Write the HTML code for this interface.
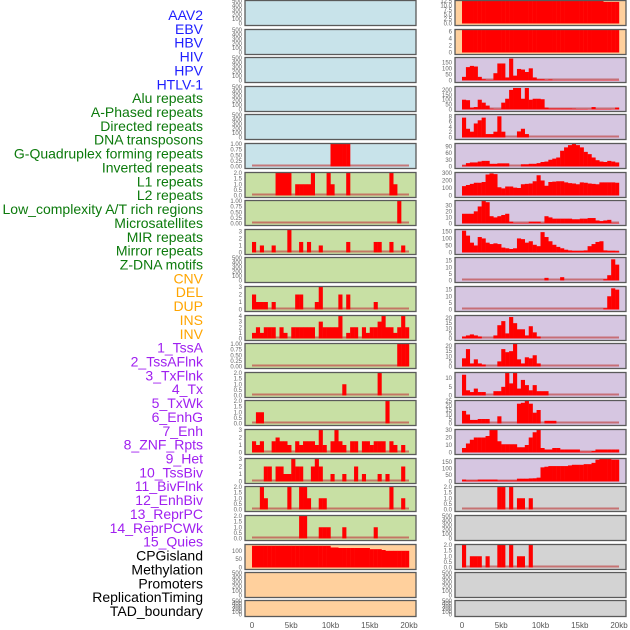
<!DOCTYPE html>
<html><head><meta charset="utf-8"><style>
html,body{margin:0;padding:0;background:#fff;}
svg{display:block;font-family:"Liberation Sans",sans-serif;}
</style></head><body>
<svg id="chart" width="630" height="630" viewBox="0 0 630 630" xmlns="http://www.w3.org/2000/svg"></svg>
<script>
const trackLabels = ["AAV2","EBV","HBV","HIV","HPV","HTLV-1","Alu repeats","A-Phased repeats","Directed repeats","DNA transposons","G-Quadruplex forming repeats","Inverted repeats","L1 repeats","L2 repeats","Low_complexity A/T rich regions","Microsatellites","MIR repeats","Mirror repeats","Z-DNA motifs","CNV","DEL","DUP","INS","INV","1_TssA","2_TssAFlnk","3_TxFlnk","4_Tx","5_TxWk","6_EnhG","7_Enh","8_ZNF_Rpts","9_Het","10_TssBiv","11_BivFlnk","12_EnhBiv","13_ReprPC","14_ReprPCWk","15_Quies","CPGisland","Methylation","Promoters","ReplicationTiming","TAD_boundary"];
const labelGroups = [6,13,5,15,5];
const xTickLabels = ["0","5kb","10kb","15kb","20kb"];
const xTickKb = [0,5,10,15,20];

// left column series (40 bins of 0.5kb)
const L5 = [0,0,0,0,0,0,0,0,0,0,0,0,0,0,0,0,0,0,0,0,1,1,1,1,1,0,0,0,0,0,0,0,0,0,0,0,0,0,0,0];
const L6 = [0,0,0,0,0,0,2,2,2,2,0,1,1,1,1,2,0,0,0,2,1,0,0,0,2,0,0,0,0,0,0,0,0,0,0,2,1,0,0,0];
const L7 = [0,0,0,0,0,0,0,0,0,0,0,0,0,0,0,0,0,0,0,0,0,0,0,0,0,0,0,0,0,0,0,0,0,0,0,0,0,1,0,0];
const L8 = [1.5,0,1,0,0,1,0,0,0,3.2,0,0,1.5,0,1.5,0,0,1,0,0,0,0,0,0,1.5,0,0,0,0,0,0,1.5,1.5,0,0,1.5,0,0,1,0];
const L10 = [2,1,1,1,0,1,0,0,0,0,0,2,2,0,0,0,1,3,0,0,0,0,2,0,2,0,0,0,0,0,0,1,0,0,0,0,0,0,0,0];
const L11 = [1,2,1,2,2,2,0,2,1,0,2,2,2,2,2,2,0,3,2,2,2,2,4,0,1,2,2,0,2,1,2,2,3,4,2,2,1,2,4,2];
const L12 = [0,0,0,0,0,0,0,0,0,0,0,0,0,0,0,0,0,0,0,0,0,0,0,0,0,0,0,0,0,0,0,0,0,0,0,0,0,1,1,1];
const L13 = [0,0,0,0,0,0,0,0,0,0,0,0,0,0,0,0,0,0,0,0,0,0,0,1,0,0,0,0,0,0,0,0,2,0,0,0,0,0,0,0];
const L14 = [0,1,1,0,0,0,0,0,0,0,0,0,0,0,0,0,0,0,0,0,0,0,0,0,0,0,0,0,0,0,0,0,0,0,2,0,0,0,0,0];
const L15 = [1.5,1,1.5,0,0,1.5,2,1.5,1.5,1,0,1.5,1,1.5,1.5,1.5,1,3,1,0,1.5,3,1.5,1,0,1.5,1.5,0,1.5,1.5,1,1.5,1.5,1.5,0,1.5,1,0,1,0];
const L16 = [0,0,0,2,2,0,2,2,1,1,3,2,2,0,0,2,3,2,0,0,1,0,0,1,0,0,2,0,1,0,0,0,1,0,1,0,0,0,2,0];
const L17 = [0,0,2,1,0,0,0,0,0,2,0,0,2,2,1,0,0,1,1,0,0,0,0,0,0,0,0,0,0,0,0,0,0,0,0,2,0,0,1,0];
const L18 = [0,0,0,0,0,0,0,0,0,0,0,0,2,2,0,0,0,1,1,1,0,0,0,1,0,0,0,0,0,0,0,1,0,0,0,0,0,0,0,0];
const L19 = [130,130,130,130,130,130,130,130,130,130,130,130,130,130,130,130,130,130,130,130,120,120,117,117,117,117,117,117,117,117,110,110,110,105,100,100,100,100,100,100];

// right column series
const R0 = [12.5,12.5,12.5,12.5,12.5,12.5,12.5,12.5,12.5,12.5,12.5,12.5,12.5,12.5,12.5,12.5,12.5,12.5,12.5,12.5,12.5,12.5,12.5,12.5,12.5,12.5,12.5,12.5,12.5,12.5,12.5,12.5,12.5,12.5,12.5,12.5,12,12,12,12];
const R1 = [6.5,6.5,6.5,6.5,6.5,6.5,6.5,6.5,6.5,6.5,6.5,6.5,6.5,6.5,6.5,6.5,6.5,6.5,6.5,6.5,6.5,6.5,6.5,6.5,6.5,6.5,6.5,6.5,6.5,6.5,6.5,6.5,6.5,6.5,6.5,6.5,6.5,6.5,6.5,6.5];
const R2 = [30,110,120,115,30,10,5,5,60,140,140,25,180,40,95,90,70,100,25,10,10,5,8,3,3,3,3,3,3,3,3,3,3,3,3,3,3,3,3,3];
const R3 = [100,95,20,25,100,70,40,8,5,5,70,110,200,220,220,110,220,100,110,110,105,20,10,10,10,10,10,10,8,5,5,5,3,25,5,5,5,5,3,20];
const R4 = [7.5,3.3,2.2,5.3,6.5,7.5,1.3,1.3,2.2,8,2.2,0,0,0,2.3,3.3,1.3,0,0,0,0,0,0,0,0,0,0,0,0,0,0,0,0,0,0,0,0,0,0,0];
const R5 = [5,15,18,18,22,25,25,12,12,14,14,14,0,0,0,10,10,12,12,15,20,22,30,35,40,70,85,95,100,95,85,65,55,40,28,22,20,25,22,18];
const R6 = [125,140,155,170,170,180,280,295,285,110,95,120,120,105,100,150,155,160,190,270,200,130,180,185,190,190,175,165,160,150,175,170,160,155,150,175,175,175,175,170];
const R7 = [16,16,16,20,28,37,35,12,10,12,14,16,3,1,1,1,1,3,3,3,1,12,10,8,8,8,8,8,7,7,8,8,9,9,5,4,5,6,1,1];
const R8 = [155,120,70,50,110,100,70,60,65,60,35,30,25,30,100,95,70,80,55,45,145,110,80,55,40,30,20,15,12,12,12,15,45,60,75,80,15,12,12,10];
const R9 = [0,0,0,0,0,0,0,0,0,0,0,0,0,0,0,0,0,0,0,0,0,2,0,0,0,2.5,0,0,0,0,0,0,0,0,0,0,1,4,16,12];
const R10 = [0,0,0,0,0,0,0,0,0,0,0,0,0,0,0,0,0,0,0,0,0,0,0,0,0,0,0,0,0,0,0,0,0,0,0,0,1,10,16,15];
const R11 = [2,3,4,3,2,0,0,0,3,13,17,5,21,15,9,9,3,12,6,2,0,0,0,0,0,0,0,0,0,0,0,0,0,0,0,0,0,0,0,0];
const R12 = [8,17,3,7,3,2,0,0,0,5,17,14,15,22,7,3,9,8,11,3,0,0,0,0,0,0,0,0,0,0,0,0,0,0,0,0,0,0,0,0];
const R13 = [12,3,2,4,2,2,0,0,2.5,2.5,5,13,7,13,4,9,6,3,6,2.5,2.5,2.5,0,0,0,0,0,0,0,0,0,0,0,0,0,0,0,0,0,0];
const R14 = [14,10,4,4,5,5,5,0,0,8,0,0,0,0,22,23,25,22,12,15,0,3,3,3,0,0,0,0,0,0,0,0,0,0,0,0,0,0,0,0];
const R15 = [6,12,17,20,20,20,22,30,30,15,11,11,11,11,7,7,10,20,27,30,6,4,4,6,6,4,4,4,4,4,1,1,1,2,4,4,4,4,4,4];
const R16 = [15,8,8,8,15,15,15,15,15,8,8,8,8,8,22,22,22,24,25,30,110,115,120,120,120,120,120,125,130,130,130,135,135,145,170,175,175,175,170,170];
const R17 = [0,0,0,0,0,0,0,0,0,2,2,0,2,0,1,1,0,1,0,0,0,0,0,0,0,0,0,0,0,0,0,0,0,0,0,0,0,0,0,0];
const R19 = [2,0,1,1,1,0,1,0,0,2,2,0,2,0,1,1,0,2,0,0,0,0,0,0,0,0,0,0,0,0,0,0,0,0,0,0,0,0,0,0];

const T500 = [0,100,200,300,400,500];
const T1 = [0,0.25,0.5,0.75,1];
const T2 = [0,0.5,1,1.5,2];
const T3 = [0,1,2,3];
const T4 = [0,1,2,3,4];

const leftSeries = [null,null,null,null,null,L5,L6,L7,L8,null,L10,L11,L12,L13,L14,L15,L16,L17,L18,L19,null,null];
const leftMax = [500,500,500,500,500,1,2,1,3.2,500,3,4,1,2,2,3,3,2,2,135,500,500];
const leftTicks = [T500,T500,T500,T500,T500,T1,T2,T1,T3,T500,T3,T4,T1,T2,T2,T3,T3,T2,T2,[0,50,100],T500,T500];
const rightSeries = [R0,R1,R2,R3,R4,R5,R6,R7,R8,R9,R10,R11,R12,R13,R14,R15,R16,R17,null,R19,null,null];
const rightMax = [12.5,6.5,185,230,8.5,100,300,37,160,17,17,22,22,13,25,30,175,2,500,2,500,500];
const rightTicks = [[0,2.5,5,7.5,10,12.5],[0,2,4,6],[0,50,100,150],[0,50,100,150,200],[0,2,4,6,8],[0,30,60,90],[0,100,200,300],[0,10,20,30],[0,50,100,150],[0,5,10,15],[0,5,10,15],[0,5,10,15,20],[0,5,10,15,20],[0,5,10],[0,5,10,15,20,25],[0,10,20,30],[0,50,100,150],T2,T500,T2,T500,T500];

const rowTops = [0,29,57,86,114,143,172,200,229,257,286,315,343,372,400,429,458,486,515,544,572,600];
const NS = "http://www.w3.org/2000/svg";
const svg = document.getElementById('chart');
function mk(tag, attrs, parent){const e=document.createElementNS(NS,tag);for(const k in attrs)e.setAttribute(k,attrs[k]);(parent||svg).appendChild(e);return e;}

function leftBg(r){return r<=5?'#c8e3ea':(r<=18?'#c8e0a4':'#ffd09d');}
function rightBg(r){return r<=1?'#ffd09d':(r<=16?'#d6c6e1':'#d3d3d3');}
function fmt(t, ticks){
  if(ticks===T1) return t.toFixed(2);
  if(ticks===T2) return t.toFixed(1);
  if(ticks[ticks.length-1]===12.5) return t.toFixed(1);
  return String(t);
}

function drawPanel(col, r){
  const x0 = col===0?245:455, w=171;
  const top = rowTops[r], h = r===21?16:25;
  const series = col===0?leftSeries[r]:rightSeries[r];
  const ymax = col===0?leftMax[r]:rightMax[r];
  const ticks = col===0?leftTicks[r]:rightTicks[r];
  const g = mk('g',{});
  
  
  const bg = mk('rect',{x:x0,y:top+0.5,width:w,height:h,fill:col===0?leftBg(r):rightBg(r)},g);
  
  
  const xs = kb => x0+7+kb*7.85;
  const y0 = top+h-1.5;
  const ys = v => y0 - v/ymax*(h-2.5);
  if(series){
    const base = mk('rect',{x:xs(0),y:y0-2,width:xs(20)-xs(0),height:2,fill:'#c04848',opacity:0.7},g);
    
    
    series.forEach((v,i)=>{
      if(v<=0) return;
      const b = mk('rect',{x:xs(i*0.5),y:ys(v),width:xs(0.5)-xs(0)+0.2,height:y0-ys(v),fill:'#ff0000'},g);
      
      
    });
  }
  const fr = mk('rect',{x:x0,y:top+0.5,width:w,height:h,fill:'none',stroke:'#5a5a5a','stroke-width':1.3},g);
  
  
  ticks.forEach(t=>{
    const tx = mk('text',{x:x0-3,y:ys(t)+2,'font-size':6,fill:'#666','text-anchor':'end'},g);
    tx.textContent = fmt(t,ticks);
    
    
  });
}
for(let r=0;r<22;r++){drawPanel(0,r);drawPanel(1,r);}

const colors = ['#1e1eff','#0c7a0c','#ffa500','#a020f0','#000000'];
let idx=0;
labelGroups.forEach((n,gi)=>{
  for(let k=0;k<n;k++){
    const t = mk('text',{x:203,y:15+idx*13.86+5,'font-size':14,fill:colors[gi],'text-anchor':'end'});
    t.textContent = trackLabels[idx];
    
    
    idx++;
  }
});
[245,455].forEach(x0=>{
  xTickKb.forEach((kb,i)=>{
    const t = mk('text',{x:x0+7+kb*7.85,y:628,'font-size':8,fill:'#555','text-anchor':'middle'});
    t.textContent = xTickLabels[i];
    
    
  });
});
</script>
</body></html>
